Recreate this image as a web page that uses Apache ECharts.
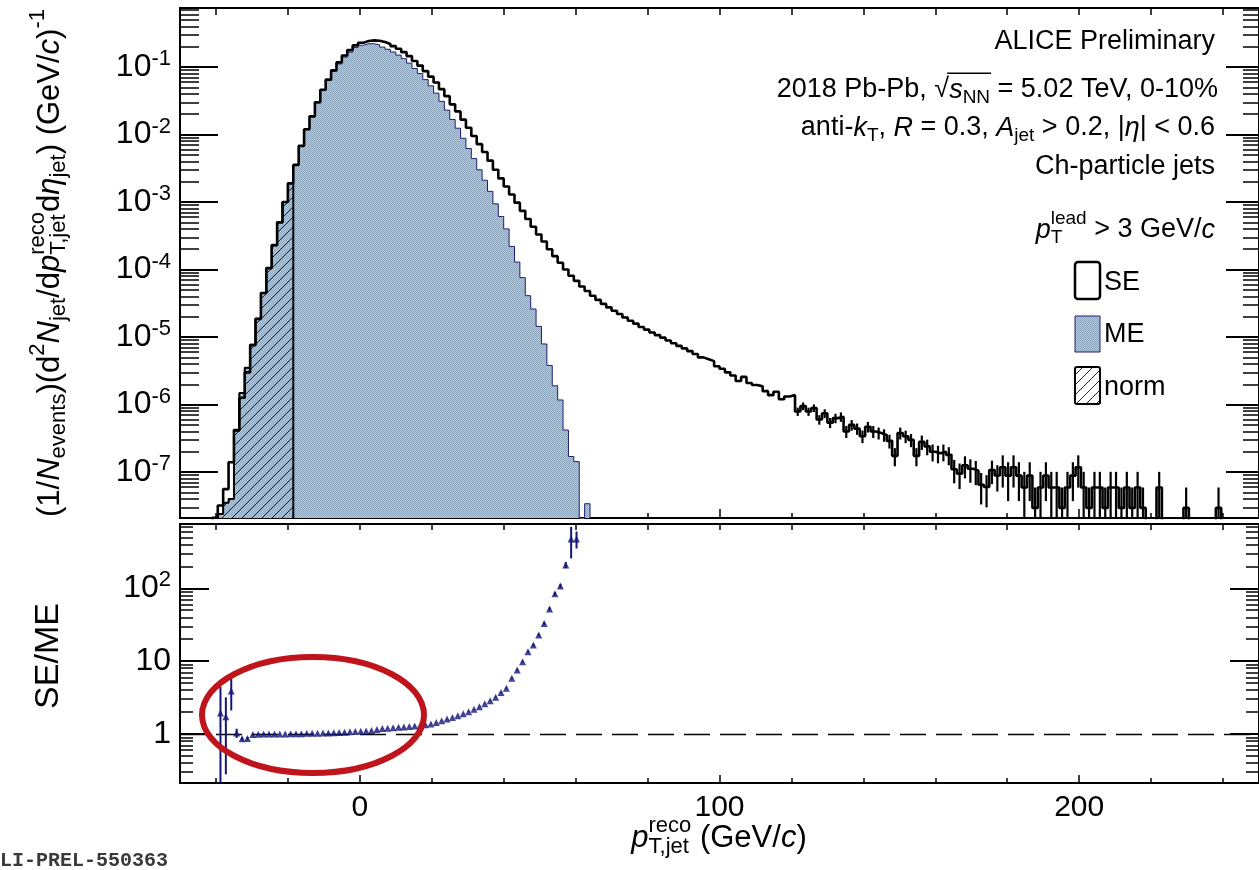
<!DOCTYPE html>
<html><head><meta charset="utf-8">
<script src="https://cdn.jsdelivr.net/npm/echarts@6/dist/echarts.min.js"></script>
<style>html,body{margin:0;padding:0;background:#fff}#c{width:1259px;height:870px}</style>
</head><body><div id="c"></div>
<script>
// ---------------- DATA ----------------
const BIN_W = 1.5;                 // GeV per bin
const X_MIN = -50, X_MAX = 250;
const X_MAJOR = [0, 100, 200];
const X_MINOR = [-40,-20,0,20,40,60,80,100,120,140,160,180,200,220,240];
const X_LABELS = [0, 100, 200];

// same-event (SE) histogram, first bin low edge -41 GeV
const SE_FIRST_EDGE = -41;
const seValues = [
 2.1e-8, 3.2e-8, 5.6e-8, 1.4e-7, 4.2e-7, 1.26e-6, 3.0e-6, 7.6e-6, 1.86e-5, 4.5e-5,
 1.05e-4, 2.3e-4, 5.0e-4, 1.0e-3, 1.9e-3, 3.55e-3, 6.8e-3, 1.2e-2, 1.86e-2, 3.0e-2,
 4.6e-2, 6.5e-2, 8.9e-2, 0.117, 0.148, 0.178, 0.209, 0.229, 0.243, 0.248,
 0.245, 0.234, 0.219, 0.204, 0.186, 0.166, 0.145, 0.123, 0.105, 0.087,
 0.072, 0.059, 0.047, 0.037, 0.028, 0.022, 0.0166, 0.0126, 0.0095, 0.0072,
 0.0055, 0.0041, 0.0030, 0.00224, 0.0017, 0.00129, 9.8e-4, 7.4e-4, 5.6e-4, 4.3e-4,
 3.3e-4, 2.6e-4, 2.0e-4, 1.58e-4, 1.26e-4, 1.0e-4, 8.1e-5, 6.8e-5, 5.6e-5, 4.8e-5,
 4.1e-5, 3.55e-5, 3.1e-5, 2.75e-5, 2.45e-5, 2.2e-5, 1.95e-5, 1.74e-5, 1.58e-5, 1.41e-5,
 1.29e-5, 1.17e-5, 1.07e-5, 9.8e-6, 8.9e-6, 8.1e-6, 7.4e-6, 6.8e-6, 6.2e-6, 5.6e-6,
 5.0e-6, 4.7e-6, 4.4e-6, 3.7e-6, 3.4e-6, 3.0e-6, 2.7e-6, 2.24e-6, 2.57e-6, 2.09e-6,
 1.95e-6, 1.86e-6, 1.58e-6, 1.38e-6, 1.55e-6, 1.2e-6, 1.32e-6, 1.38e-6, 7.9e-7, 9.5e-7,
 7.9e-7, 8.9e-7, 6.0e-7, 7.4e-7, 5.4e-7, 6.3e-7, 6.6e-7, 4.0e-7, 5.0e-7, 4.4e-7,
 3.4e-7, 4.7e-7, 4.0e-7, 3.8e-7, 3.55e-7, 2.9e-7, 1.74e-7, 3.8e-7, 3.4e-7, 3.0e-7,
 1.74e-7, 2.8e-7, 2.4e-7, 2.0e-7, 1.9e-7, 2.0e-7, 1.8e-7, 1.1e-7, 9.5e-8, 1.26e-7,
 1.12e-7, 1.05e-7, 6.5e-8, 6.0e-8, 1.07e-7, 8.9e-8, 1.18e-7, 8.85e-8, 1.18e-7, 8.85e-8,
 5.9e-8, 8.85e-8, 2.95e-8, 5.9e-8, 8.85e-8, 5.9e-8, 5.9e-8, 2.95e-8, 5.9e-8, 8.85e-8,
 1.18e-7, 5.9e-8, 2.95e-8, 5.9e-8, 5.9e-8, 2.95e-8, 5.9e-8, 5.9e-8, 2.95e-8, 5.9e-8,
 2.95e-8, 5.9e-8, 2.95e-8, 0, 0, 5.9e-8, 0, 0, 0, 0,
 2.95e-8, 0, 0, 0, 0, 0, 2.95e-8
];
// relative statistical errors drawn for the SE tail, starting at bin index 108
const SE_ERR_FIRST_INDEX = 108;
const seTailRelErr = [
 0.14, 0.13, 0.14, 0.13, 0.16, 0.15, 0.17, 0.16, 0.16, 0.2, 0.18, 0.19, 0.21, 0.18, 0.2, 0.2, 0.21, 0.23,
 0.3, 0.2, 0.21, 0.22, 0.3, 0.24, 0.26, 0.28, 0.29, 0.28, 0.3, 0.38, 0.41, 0.36, 0.38, 0.39, 0.49, 0.5, 0.38, 0.42,
 0.5, 0.58, 0.5, 0.58, 0.71, 0.58, 1, 0.71, 0.58, 0.71, 0.71, 1, 0.71, 0.58, 0.5, 0.71, 1, 0.71, 0.71, 1,
 0.71, 0.71, 1, 0.71, 1, 0.71, 1, 0, 0, 0.71, 0, 0, 0, 0, 1, 0, 0, 0, 0, 0, 1
];

// mixed-event (ME) histogram, first bin low edge -39.5 GeV
const ME_FIRST_EDGE = -39.5;
const meValues = [
 2.4e-8, 3.5e-8, 4.0e-8, 4.1e-7, 1.48e-6, 3.5e-6, 7.7e-6, 1.87e-5, 4.5e-5, 1.05e-4,
 2.3e-4, 5.0e-4, 1.0e-3, 1.88e-3, 3.5e-3, 6.7e-3, 1.18e-2, 1.82e-2, 2.94e-2, 4.47e-2,
 6.3e-2, 8.6e-2, 0.111, 0.140, 0.166, 0.194, 0.210, 0.221, 0.221, 0.213,
 0.197, 0.183, 0.167, 0.150, 0.133, 0.114, 0.095, 0.080, 0.065, 0.0526,
 0.041, 0.031, 0.023, 0.0167, 0.0124, 0.0088, 0.0062, 0.0044, 0.0030, 0.0021,
 0.00144, 9.4e-4, 6.1e-4, 4.0e-4, 2.2e-4, 1.29e-4, 7.6e-5, 4.1e-5, 2.6e-5, 1.44e-5,
 7.9e-6, 3.8e-6, 1.9e-6, 1.17e-6, 4.2e-7, 1.7e-7, 1.43e-7, 0, 3.4e-8
];
// normalisation region: ME bins below this edge
const NORM_UPPER_EDGE = -18.5;

// SE/ME ratio, first bin centre -38.75 GeV
const RATIO_FIRST_CENTER = -38.75;
const ratioValues = [
 1.94, 1.73, 3.9, 1.03, 0.86, 0.87, 0.98, 0.99, 1.0, 1.0,
 1.0, 1.0, 1.0, 1.01, 1.01, 1.01, 1.02, 1.02, 1.02, 1.03,
 1.03, 1.04, 1.05, 1.06, 1.07, 1.08, 1.09, 1.10, 1.12, 1.15,
 1.19, 1.20, 1.22, 1.24, 1.25, 1.27, 1.29, 1.31, 1.34, 1.37,
 1.44, 1.52, 1.60, 1.68, 1.78, 1.89, 2.02, 2.18, 2.37, 2.6,
 2.85, 3.2, 3.7, 4.25, 5.82, 7.57, 9.8, 13.5, 16.6, 22.9,
 33, 52, 84, 108, 209, 477, 477
];
const ratioErrors = [
 2.5, 1.45, 1.8, 0.15, 0.05, 0.04, 0.03, 0.02, 0.01, 0.01,
 0.01, 0.01, 0.01, 0.01, 0.01, 0.01, 0.01, 0.01, 0.01, 0.01,
 0.01, 0.01, 0.01, 0.01, 0.01, 0.01, 0.01, 0.01, 0.01, 0.01,
 0.01, 0.01, 0.01, 0.01, 0.01, 0.01, 0.01, 0.01, 0.01, 0.01,
 0.01, 0.01, 0.01, 0.01, 0.01, 0.01, 0.02, 0.02, 0.03, 0.03,
 0.04, 0.05, 0.07, 0.09, 0.13, 0.18, 0.25, 0.4, 0.6, 0.9,
 1.5, 2.6, 5, 7, 20, 220, 125
];

// axis ranges (log10 of the plotted quantity) and tick labels (exponents)
const TOP_LOG_MIN = -7.68, TOP_LOG_MAX = -0.126;
const TOP_EXPONENTS = [-7, -6, -5, -4, -3, -2, -1];
const BOT_LOG_MIN = -0.673, BOT_LOG_MAX = 2.883;
const BOT_EXPONENTS = [0, 1, 2];

// ---------------- HELPERS ----------------
const FONT = '"Liberation Sans", Arial, Helvetica, sans-serif';
const LOG_FLOOR = -12;
const lg = v => (v > 0 ? Math.log10(v) : LOG_FLOOR);

function stepPoints(firstEdge, w, vals) {
  const pts = [[firstEdge, LOG_FLOOR]];
  vals.forEach((v, i) => pts.push([firstEdge + i * w, lg(v)]));
  pts.push([firstEdge + vals.length * w, LOG_FLOOR]);
  return pts;
}
function minorLogTicks(lo, hi) {
  const out = [];
  for (let n = Math.floor(lo) - 1; n <= Math.ceil(hi); n++)
    for (const k of [2, 3, 4, 5, 6, 7, 8, 9]) {
      const v = n + Math.log10(k);
      if (v > lo && v < hi) out.push(v);
    }
  return out;
}
function makeTile(w, h, draw) {
  const c = document.createElement('canvas'); c.width = w; c.height = h;
  draw(c.getContext('2d')); return c;
}
const meTile = makeTile(2, 2, g => {
  g.fillStyle = '#b5c7d6'; g.fillRect(0, 0, 2, 2);
  g.fillStyle = '#90a8be'; g.fillRect(0, 0, 1, 1); g.fillRect(1, 1, 1, 1);
});
const hatchTile = makeTile(10, 10, g => {
  g.strokeStyle = '#2a2a2a'; g.lineWidth = 1; g.beginPath();
  g.moveTo(0, 10); g.lineTo(10, 0); g.moveTo(-5, 5); g.lineTo(5, -5); g.moveTo(5, 15); g.lineTo(15, 5);
  g.stroke();
});
const mePattern = { image: meTile, repeat: 'repeat' };
const hatchPattern = { image: hatchTile, repeat: 'repeat' };

// text layout with sub/superscripts
const mctx = document.createElement('canvas').getContext('2d');
function tw(t, size, it) { mctx.font = (it ? 'italic ' : '') + size + 'px ' + FONT; return mctx.measureText(t).width; }
function T(t, x, y, size, it) {
  return { type: 'text', x: x, y: y, silent: true,
    style: { text: t, font: (it ? 'italic ' : '') + size + 'px ' + FONT, fill: '#000',
      align: 'left', verticalAlign: 'middle', textAlign: 'left', textVerticalAlign: 'middle' } };
}
function richLine(tokens, B, opt) {
  const S = Math.round(B * 0.7);
  const supDy = -B * 0.40, subDy = B * 0.30;
  let x = 0; const kids = []; let olStart = null, olEnd = null;
  for (const tk of tokens) {
    if (tk.stack) {
      const w = Math.max(tw(tk.stack[0], S, false), tw(tk.stack[1], S, false));
      kids.push(T(tk.stack[0], x, supDy, S, false));
      kids.push(T(tk.stack[1], x, subDy, S, false));
      x += w; continue;
    }
    const sz = tk.k ? S : B;
    const dy = tk.k === 'sup' ? supDy : tk.k === 'sub' ? subDy : 0;
    const st = x;
    kids.push(T(tk.t, x, dy, sz, !!tk.i));
    x += tw(tk.t, sz, !!tk.i);
    if (tk.ol) { if (olStart === null) olStart = st; olEnd = x; }
  }
  if (olStart !== null) {
    kids.push({ type: 'line', silent: true, shape: { x1: olStart - 2, y1: -B * 0.62, x2: olEnd + 1, y2: -B * 0.62 },
      style: { stroke: '#000', lineWidth: 1.3 } });
  }
  const shift = opt.align === 'right' ? -x : opt.align === 'center' ? -x / 2 : 0;
  kids.forEach(k => { if (k.type === 'line') { k.shape.x1 += shift; k.shape.x2 += shift; } else k.x += shift; });
  return { type: 'group', x: opt.x, y: opt.y, rotation: opt.rot || 0, children: kids, z: 50 };
}

// ---------------- AXES ----------------
const xAxes = [], yAxes = [];
const X_LABEL = { fontSize: 30, fontFamily: FONT, color: '#000', margin: 10 };
function xA(grid, pos, ticks, len, labels) {
  xAxes.push({ type: 'value', gridIndex: grid, position: pos, min: X_MIN, max: X_MAX,
    axisLine: { show: false, onZero: false }, splitLine: { show: false },
    axisTick: { show: true, inside: true, length: len, customValues: ticks, lineStyle: { color: '#000', width: 1.5 } },
    axisLabel: labels ? Object.assign({ show: true, customValues: labels }, X_LABEL) : { show: false } });
  return xAxes.length - 1;
}
const yRich = {
  b: { fontSize: 32, fontFamily: FONT, color: '#000', lineHeight: 38 },
  s: { fontSize: 22, fontFamily: FONT, color: '#000', verticalAlign: 'top', lineHeight: 22 }
};
function yFmt(v) {
  const e = Math.round(v);
  if (e === 0) return '{b|1}';
  if (e === 1) return '{b|10}';
  return '{b|10}{s|' + e + '}';
}
function yA(grid, pos, lo, hi, ticks, len, labels, w) {
  yAxes.push({ type: 'value', gridIndex: grid, position: pos, min: lo, max: hi,
    axisLine: { show: false, onZero: false }, splitLine: { show: false },
    axisTick: { show: true, inside: true, length: len, customValues: ticks, lineStyle: { color: '#000', width: w } },
    axisLabel: labels ? { show: true, customValues: labels, formatter: yFmt, rich: yRich, margin: 9 } : { show: false } });
  return yAxes.length - 1;
}
const topMinor = minorLogTicks(TOP_LOG_MIN, TOP_LOG_MAX);
const botMinor = minorLogTicks(BOT_LOG_MIN, BOT_LOG_MAX);

const X0 = xA(0, 'bottom', X_MAJOR, 9);
xA(0, 'bottom', X_MINOR, 5);
xA(0, 'top', X_MINOR, 7);
const X1 = xA(1, 'bottom', X_MAJOR, 8, X_LABELS);
xA(1, 'bottom', X_MINOR, 5);
xA(1, 'top', X_MINOR, 6);

const Y0 = yA(0, 'left', TOP_LOG_MIN, TOP_LOG_MAX, TOP_EXPONENTS, 38, TOP_EXPONENTS, 2);
yA(0, 'left', TOP_LOG_MIN, TOP_LOG_MAX, topMinor, 19, null, 1.5);
yA(0, 'right', TOP_LOG_MIN, TOP_LOG_MAX, TOP_EXPONENTS, 33, null, 2);
yA(0, 'right', TOP_LOG_MIN, TOP_LOG_MAX, topMinor, 16, null, 1.5);
const Y1 = yA(1, 'left', BOT_LOG_MIN, BOT_LOG_MAX, BOT_EXPONENTS, 29, BOT_EXPONENTS, 2);
yA(1, 'left', BOT_LOG_MIN, BOT_LOG_MAX, botMinor, 13, null, 1.5);
yA(1, 'right', BOT_LOG_MIN, BOT_LOG_MAX, BOT_EXPONENTS, 29, null, 2);
yA(1, 'right', BOT_LOG_MIN, BOT_LOG_MAX, botMinor, 13, null, 1.5);

// ---------------- SERIES DATA ----------------
const nNorm = Math.round((NORM_UPPER_EDGE - ME_FIRST_EDGE) / BIN_W);
const seErrData = seTailRelErr.map((r, j) => {
  const i = SE_ERR_FIRST_INDEX + j, v = seValues[i];
  const c = SE_FIRST_EDGE + (i + 0.5) * BIN_W;
  return [c, v > 0 ? lg(v * (1 - r)) : LOG_FLOOR, v > 0 ? lg(v * (1 + r)) : LOG_FLOOR];
}).filter(d => d[2] > LOG_FLOOR);
const ratioPts = ratioValues.map((v, i) => [RATIO_FIRST_CENTER + i * BIN_W, lg(v)]);
const ratioErr = ratioValues.map((v, i) => [RATIO_FIRST_CENTER + i * BIN_W, lg(v - ratioErrors[i]), lg(v + ratioErrors[i])]);

function errBar(color, width) {
  return function (params, api) {
    const a = api.coord([api.value(0), api.value(1)]);
    const b = api.coord([api.value(0), api.value(2)]);
    return { type: 'line', shape: { x1: a[0], y1: a[1], x2: b[0], y2: b[1] }, style: { stroke: color, lineWidth: width } };
  };
}

// ---------------- TEXT ----------------
const B = 31, A = 27;
const graphics = [
  richLine([{ t: '(1/' }, { t: 'N', i: 1 }, { t: 'events', k: 'sub' }, { t: ')(d' }, { t: '2', k: 'sup' },
    { t: 'N', i: 1 }, { t: 'jet', k: 'sub' }, { t: '/d' }, { t: 'p', i: 1 }, { stack: ['reco', 'T,jet'] },
    { t: 'd' }, { t: 'η', i: 1 }, { t: 'jet', k: 'sub' }, { t: ') (GeV/' }, { t: 'c', i: 1 }, { t: ')' }, { t: '-1', k: 'sup' }],
    B, { x: 50, y: 263, rot: Math.PI / 2, align: 'center' }),
  richLine([{ t: 'SE/ME' }], 34, { x: 49, y: 656, rot: Math.PI / 2, align: 'center' }),
  richLine([{ t: 'p', i: 1 }, { stack: ['reco', 'T,jet'] }, { t: ' (GeV/' }, { t: 'c', i: 1 }, { t: ')' }],
    B, { x: 719, y: 838, align: 'center' }),
  richLine([{ t: 'ALICE Preliminary' }], A, { x: 1215, y: 42, align: 'right' }),
  richLine([{ t: '2018 Pb-Pb, ' }, { t: '√' }, { t: 's', i: 1, ol: 1 }, { t: 'NN', k: 'sub', ol: 1 }, { t: ' = 5.02 TeV, 0-10%' }],
    A, { x: 1218, y: 90, align: 'right' }),
  richLine([{ t: 'anti-' }, { t: 'k', i: 1 }, { t: 'T', k: 'sub' }, { t: ', ' }, { t: 'R', i: 1 }, { t: ' = 0.3, ' },
    { t: 'A', i: 1 }, { t: 'jet', k: 'sub' }, { t: ' > 0.2, |' }, { t: 'η', i: 1 }, { t: '| < 0.6' }],
    A, { x: 1215, y: 128, align: 'right' }),
  richLine([{ t: 'Ch-particle jets' }], A, { x: 1215, y: 167, align: 'right' }),
  richLine([{ t: 'p', i: 1 }, { stack: ['lead', 'T'] }, { t: ' > 3 GeV/' }, { t: 'c', i: 1 }],
    A, { x: 1215, y: 230, align: 'right' }),
  // legend
  { type: 'rect', shape: { x: 1075, y: 262, width: 25, height: 37, r: 3 }, style: { fill: '#fff', stroke: '#000', lineWidth: 2.5 }, z: 50 },
  { type: 'rect', shape: { x: 1075, y: 316, width: 25, height: 36 }, style: { fill: mePattern, stroke: '#1e1e70', lineWidth: 1 }, z: 50 },
  { type: 'rect', shape: { x: 1075, y: 367, width: 25, height: 37, r: 2 }, style: { fill: hatchPattern, stroke: '#000', lineWidth: 2 }, z: 50 },
  richLine([{ t: 'SE' }], A, { x: 1104, y: 283, align: 'left' }),
  richLine([{ t: 'ME' }], A, { x: 1104, y: 335, align: 'left' }),
  richLine([{ t: 'norm' }], A, { x: 1104, y: 388, align: 'left' }),
  // annotation ellipse
  { type: 'ellipse', shape: { cx: 313, cy: 715, rx: 111, ry: 58 }, style: { fill: 'none', stroke: '#c0141c', lineWidth: 6 }, z: 100 },
  // figure id
  { type: 'text', x: -12, y: 861, silent: true, style: { text: 'ALI-PREL-550363', font: 'bold 20px "Liberation Mono", monospace', fill: '#3a3a3a', align: 'left', verticalAlign: 'middle', textAlign: 'left', textVerticalAlign: 'middle' }, z: 50 }
];

// ---------------- CHART ----------------
const chart = echarts.init(document.getElementById('c'), null, { renderer: 'canvas' });
chart.setOption({
  animation: false,
  backgroundColor: '#fff',
  grid: [
    { left: 180, top: 8, width: 1080, height: 510, show: true, borderColor: '#000', borderWidth: 2, backgroundColor: 'transparent' },
    { left: 180, top: 524, width: 1080, height: 259, show: true, borderColor: '#000', borderWidth: 2, backgroundColor: 'transparent' }
  ],
  xAxis: xAxes,
  yAxis: yAxes,
  series: [
    { name: 'ME', type: 'line', xAxisIndex: X0, yAxisIndex: Y0, step: 'end', symbol: 'none', clip: true, z: 2,
      data: stepPoints(ME_FIRST_EDGE, BIN_W, meValues),
      lineStyle: { color: '#1e1e70', width: 1 }, areaStyle: { origin: 'start', color: mePattern, opacity: 1 } },
    { name: 'norm', type: 'line', xAxisIndex: X0, yAxisIndex: Y0, step: 'end', symbol: 'none', clip: true, z: 3,
      data: stepPoints(ME_FIRST_EDGE, BIN_W, meValues.slice(0, nNorm)),
      lineStyle: { color: '#000', width: 2 }, areaStyle: { origin: 'start', color: hatchPattern, opacity: 1 } },
    { name: 'SE', type: 'line', xAxisIndex: X0, yAxisIndex: Y0, step: 'end', symbol: 'none', clip: true, z: 4,
      data: stepPoints(SE_FIRST_EDGE, BIN_W, seValues),
      lineStyle: { color: '#000', width: 2.6 } },
    { name: 'SE err', type: 'custom', xAxisIndex: X0, yAxisIndex: Y0, clip: true, z: 4,
      data: seErrData, renderItem: errBar('#000', 2.2) },
    { name: 'ratio err', type: 'custom', xAxisIndex: X1, yAxisIndex: Y1, clip: true, z: 5,
      data: ratioErr, renderItem: errBar('#15157a', 2) },
    { name: 'SE/ME', type: 'scatter', xAxisIndex: X1, yAxisIndex: Y1, clip: true, z: 6,
      data: ratioPts, symbol: 'triangle', symbolSize: 7, itemStyle: { color: '#15157a' },
      markLine: { silent: true, symbol: ['none', 'none'], label: { show: false },
        lineStyle: { color: '#000', width: 1.3, type: [26, 10] }, data: [{ yAxis: 0 }] } }
  ],
  graphic: graphics
});
</script>
</body></html>
